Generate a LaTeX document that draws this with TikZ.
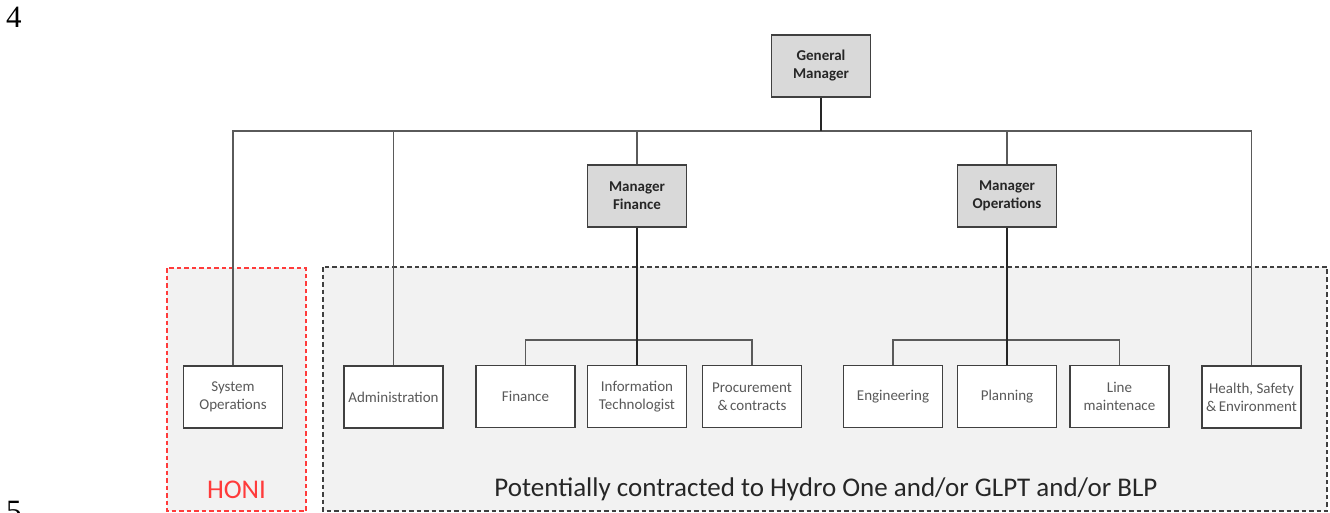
\documentclass[tikz,border=0pt]{standalone}
\usepackage{fontspec}
\setmainfont{Carlito}
\newfontfamily\numfont{Liberation Serif}
\definecolor{boxline}{HTML}{404040}
\definecolor{mgrfill}{HTML}{D9D9D9}
\definecolor{zonefill}{HTML}{F2F2F2}
\definecolor{txtgray}{HTML}{595959}
\definecolor{linkgray}{HTML}{5A5A5A}
\definecolor{honired}{HTML}{FF3B3B}
\tikzset{
  unit/.style={draw=boxline, line width=1.4pt, fill=white, minimum width=99pt,
    minimum height=62pt, align=center, inner sep=1pt, text=txtgray,
    font=\fontsize{15}{18}\selectfont},
  mgr/.style={unit, fill=mgrfill, text=black!85, font=\fontsize{15}{18}\selectfont\bfseries},
  link/.style={draw=linkgray, line width=1.2pt},
  stem/.style={draw=black!85, line width=2pt},
  zone/.style={fill=zonefill, line width=1.5pt, dash pattern=on 4.5pt off 3pt}
}
\begin{document}
\begin{tikzpicture}[x=1pt,y=-1pt]
\useasboundingbox (0,0) rectangle (1330,513);

% page numbers in the margin
\node[anchor=base west, inner sep=0, font=\numfont\fontsize{31}{31}\selectfont] (pgA) at (6,27.5) {4};
\node[anchor=base west, inner sep=0, font=\numfont\fontsize{31}{31}\selectfont] (pgB) at (6,521) {5};

% shaded areas
\draw[zone, draw=honired] (167,268) rectangle (306,511);
\draw[zone, draw=boxline] (323,267) rectangle (1327,511);
\node[text=honired, font=\fontsize{27}{27}\selectfont] (honi) at (236.5,490) {HONI};
\node[text=black!85, font=\fontsize{27}{27}\selectfont] (contract) at (826,489)
  {Potentially contracted to Hydro One and/or GLPT and/or BLP};

% top level
\node[mgr] (gm) at (821,66) {General\\Manager};
\node[mgr] (mf) at (637,196) {Manager\\Finance};
\node[mgr] (mo) at (1007,196) {Manager\\Operations};

% units
\node[unit] (sys) at (233,397) {System\\Operations};
\node[unit] (adm) at (393.5,397) {Administration};
\node[unit] (fin) at (525.5,396.5) {Finance};
\node[unit] (it) at (637,396.5) {Information\\Technologist};
\node[unit] (proc) at (752,396.5) {Procurement\\\&\,contracts};
\node[unit] (eng) at (893,396.5) {Engineering};
\node[unit] (plan) at (1007,396.5) {Planning};
\node[unit] (line) at (1119.5,396.5) {Line\\maintenace};
\node[unit] (hse) at (1251.5,397) {Health, Safety\\\&\,Environment};

% reporting lines
\coordinate (bar) at (821,131);
\coordinate (fbar) at (637,340);
\coordinate (obar) at (1007,340);
\draw[link] (sys.north) |- (bar) -| (hse.north);
\draw[link] (adm.north) -- (adm.north |- bar);
\draw[link] (mf.north) -- (mf.north |- bar);
\draw[link] (mo.north) -- (mo.north |- bar);
\draw[stem] (gm.south) -- (bar);
\draw[link] (fin.north) |- (fbar) -| (proc.north);
\draw[stem] (mf.south) -- (it.north);
\draw[link] (eng.north) |- (obar) -| (line.north);
\draw[stem] (mo.south) -- (plan.north);
\end{tikzpicture}
\end{document}
